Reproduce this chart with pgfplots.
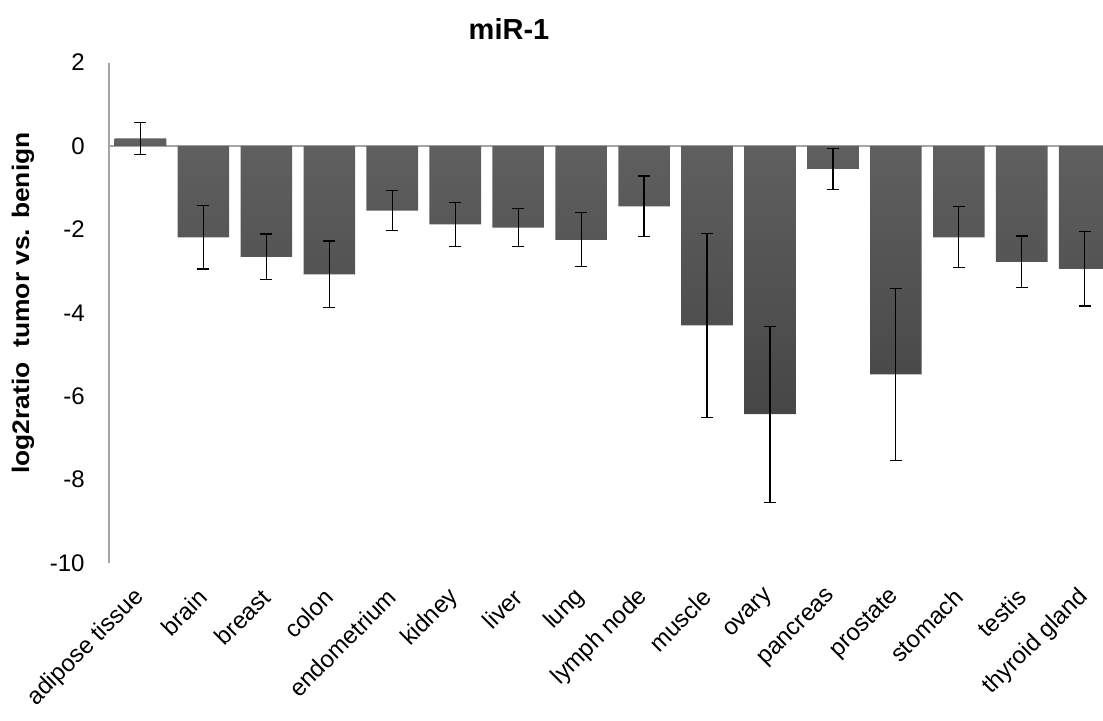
\documentclass[border=0pt]{standalone}
\usepackage{pgfplots}
\pgfplotsset{compat=1.18}
\usepackage{pgfplotstable}
\usepackage{fontspec}
\setmainfont{Liberation Sans}
\definecolor{axgray}{RGB}{165,165,165}
\definecolor{bartop}{RGB}{96,96,96}
\definecolor{barbot}{RGB}{70,70,70}
\pgfplotstableread{
x y e
0 0.18 0.38
1 -2.19 0.76
2 -2.66 0.55
3 -3.08 0.80
4 -1.55 0.48
5 -1.88 0.53
6 -1.96 0.46
7 -2.25 0.65
8 -1.45 0.73
9 -4.30 2.21
10 -6.43 2.11
11 -0.55 0.49
12 -5.48 2.07
13 -2.19 0.73
14 -2.78 0.62
15 -2.95 0.89
}\datatable
\begin{document}
\begin{tikzpicture}[x=1pt,y=1pt]
\path[use as bounding box] (0,0) rectangle (551.5,-360);
\begin{axis}[
  at={(54.5pt,-281.5pt)}, anchor=south west,
  scale only axis, width=497pt, height=250.25pt,
  xmin=-0.5, xmax=15.29, ymin=-10, ymax=2,
  ybar, bar width=0.82,
  axis x line*=bottom, axis y line*=left,
  x axis line style={draw=none},
  y axis line style={draw=axgray, line width=0.6pt},
  major tick length=0pt,
  xtick={0,...,15},
  xticklabels={adipose tissue,brain,breast,colon,endometrium,kidney,liver,lung,lymph node,muscle,ovary,pancreas,prostate,stomach,testis,thyroid gland},
  ytick={-10,-8,-6,-4,-2,0,2},
  yticklabels={-10,-8,-6,-4,-2,0,2},
  ticklabel style={font=\fontsize{12}{14}\selectfont, text=black},
  yticklabel style={inner sep=0pt},
  yticklabel shift=12pt,
  xticklabel style={inner sep=0pt, rotate=45, anchor=east},
  xticklabel shift=15pt,
  extra y ticks={0}, extra y tick labels={},
  extra y tick style={grid=major, major grid style={draw=axgray, line width=0.6pt}},
  clip=true,
]
\addplot[draw=none, top color=bartop, bottom color=barbot,
  error bars/.cd, y dir=both, y explicit,
  error bar style={black, line width=0.6pt},
  error mark options={rotate=90, mark size=3pt, black, line width=0.6pt}]
  table[x=x, y=y, y error=e] {\datatable};
\end{axis}
\node[font=\fontsize{14.5}{17}\selectfont\bfseries] at (254.5,-14.25) {miR-1};
\node[rotate=90, font=\fontsize{12}{14}\selectfont\bfseries] at (11.5,-151.5) {\scalebox{1.1}[1]{log2ratio\ \ tumor vs. benign}};
\end{tikzpicture}
\end{document}
